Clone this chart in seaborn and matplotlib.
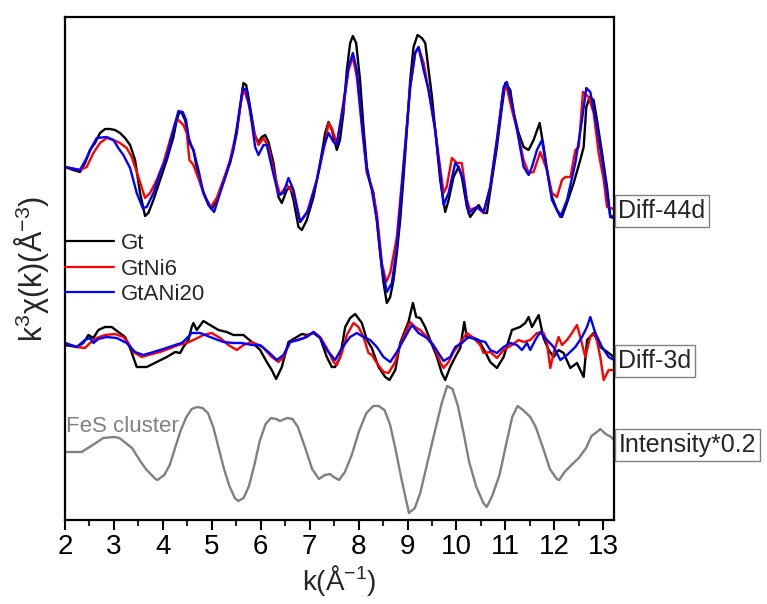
import numpy as np
import pandas as pd
import matplotlib
matplotlib.use("Agg")
import matplotlib.pyplot as plt
import matplotlib.transforms as mtransforms
from matplotlib.ticker import MultipleLocator
import seaborn as sns

# ---------------- data (k in 1/Angstrom; k^3 chi(k) in arbitrary units, relative to each trace baseline) ----
series_names = ["Gt", "GtNi6", "GtANi20"]
panel_labels = ["Diff-44d", "Diff-3d", "Intensity*0.2"]
reference_label = "FeS cluster"
x_ticks = [2, 3, 4, 5, 6, 7, 8, 9, 10, 11, 12, 13]

# ---- Diff-44d ----
k_gt_44 = [2.0, 2.17, 2.307, 2.41, 2.51, 2.614, 2.716, 2.818, 2.92, 3.023, 3.125, 3.227, 3.33, 3.432, 3.534,
           3.636, 3.704, 3.807, 3.943, 4.08, 4.216, 4.284, 4.338, 4.386, 4.454, 4.522, 4.577, 4.625, 4.727,
           4.829, 4.931, 4.999, 5.102, 5.238, 5.374, 5.511, 5.579, 5.647, 5.702, 5.749, 5.818, 5.886, 5.954,
           6.022, 6.09, 6.158, 6.261, 6.363, 6.431, 6.533, 6.601, 6.67, 6.772, 6.84, 6.942, 7.079, 7.215,
           7.317, 7.386, 7.454, 7.555, 7.62, 7.69, 7.76, 7.828, 7.883, 7.95, 8.03, 8.1, 8.169, 8.237, 8.305,
           8.373, 8.44, 8.51, 8.578, 8.646, 8.714, 8.782, 8.85, 8.919, 8.987, 9.055, 9.123, 9.205, 9.293,
           9.362, 9.43, 9.5, 9.566, 9.668, 9.77, 9.84, 9.94, 10.043, 10.11, 10.214, 10.28, 10.384, 10.452,
           10.555, 10.623, 10.725, 10.827, 10.93, 10.998, 11.1, 11.168, 11.27, 11.373, 11.475, 11.577, 11.7,
           11.782, 11.85, 11.952, 12.054, 12.157, 12.259, 12.395, 12.531, 12.6, 12.654, 12.722, 12.804,
           12.872, 12.975, 13.077, 13.145, 13.22]
gt_44 = [-1, -4, -6, 3, 16, 23, 33, 37, 37, 36, 33, 28, 21, 6, -27,
         -50, -47, -34, -14, 6, 29, 46, 54, 53, 46, 29, 21, 16, -11,
         -27, -39, -43, -34, -14, 3, 33, 59, 83, 81, 69, 49, 29, 24,
         29, 31, 24, 3, -31, -37, -24, -21, -34, -61, -64, -54, -31, 3,
         33, 44, 36, 16, 26, 53, 96, 123, 130, 123, 86, 39, -1, -17, -27,
         -54, -87, -117, -137, -131, -114, -87, -54, -11, 36, 86, 119, 131, 128,
         123, 96, 69, 36, -14, -46, -34, -11, -1, -11, -41, -51, -44, -39,
         -47, -47, -14, 19, 59, 83, 76, 53, 33, 19, 16, 26, 43,
         19, -4, -31, -44, -51, -37, -17, 6, 19, 59, 69, 66,
         46, 13, -21, -51, -50]

k_ni6_44 = [2.0, 2.307, 2.443, 2.58, 2.716, 2.852, 2.989, 3.125, 3.261, 3.364, 3.5, 3.636, 3.738, 3.875, 4.011,
            4.147, 4.25, 4.318, 4.42, 4.488, 4.543, 4.625, 4.761, 4.897, 4.979, 5.1, 5.238, 5.374, 5.511,
            5.613, 5.66, 5.749, 5.852, 5.954, 6.056, 6.158, 6.295, 6.397, 6.533, 6.67, 6.806, 6.942, 7.147,
            7.317, 7.386, 7.45, 7.555, 7.69, 7.794, 7.883, 7.964, 8.067, 8.169, 8.27, 8.373, 8.476, 8.564,
            8.646, 8.782, 8.919, 9.055, 9.157, 9.225, 9.33, 9.43, 9.566, 9.737, 9.8, 9.907, 10.01, 10.11,
            10.214, 10.28, 10.418, 10.555, 10.69, 10.827, 10.96, 11.03, 11.134, 11.24, 11.373, 11.475, 11.577,
            11.714, 11.85, 11.952, 12.054, 12.157, 12.225, 12.33, 12.43, 12.5, 12.586, 12.7, 12.804, 12.906,
            13.01, 13.077, 13.145, 13.22]
ni6_44 = [-1, -4, -1, 13, 23, 28, 26, 23, 18, 9, -11, -32, -27, -14, 3,
          26, 43, 46, 41, 33, 6, 1, -17, -34, -41, -32, -14, 6, 36,
          69, 76, 63, 36, 21, 28, 19, -11, -29, -19, -27, -56, -47, -14,
          23, 43, 38, 23, 59, 96, 109, 89, 39, -7, -21, -47, -97, -116,
          -107, -71, 3, 79, 113, 119, 103, 76, 36, -27, -21, 8, 3, 3,
          -34, -44, -41, -47, -21, 26, 76, 78, 56, 36, 6, -7, -6,
          14, -4, -27, -31, -14, -11, -11, 16, 19, 74, 69, 53, 13,
          -14, -41, -42, -43]

k_ani20_44 = [2.0, 2.307, 2.443, 2.546, 2.648, 2.852, 2.989, 3.09, 3.193, 3.33, 3.466, 3.588, 3.67, 3.807, 3.943,
              4.08, 4.216, 4.318, 4.406, 4.474, 4.543, 4.625, 4.727, 4.829, 4.965, 5.047, 5.17, 5.306, 5.442,
              5.545, 5.633, 5.702, 5.783, 5.886, 5.954, 6.056, 6.124, 6.226, 6.363, 6.465, 6.567, 6.67, 6.806,
              6.976, 7.147, 7.283, 7.386, 7.488, 7.555, 7.69, 7.794, 7.883, 7.964, 8.067, 8.169, 8.27, 8.373,
              8.476, 8.578, 8.68, 8.782, 8.919, 9.055, 9.157, 9.225, 9.33, 9.43, 9.566, 9.737, 9.84, 9.975,
              10.043, 10.146, 10.248, 10.418, 10.555, 10.69, 10.827, 10.964, 11.03, 11.134, 11.24, 11.373,
              11.475, 11.543, 11.645, 11.748, 11.85, 11.952, 12.123, 12.26, 12.43, 12.566, 12.654, 12.736,
              12.872, 13.01, 13.145, 13.22]
ani20_44 = [-1, -4, 8, 19, 28, 29, 26, 18, 11, -2, -27, -42, -41, -27, -7,
            9, 36, 55, 54, 46, 23, 16, -4, -27, -41, -46, -27, -7, 16,
            49, 78, 76, 56, 19, 11, 21, 21, -1, -29, -27, -12, -24, -56,
            -44, -14, 19, 33, 24, 21, 63, 99, 113, 96, 43, -4, -24, -54,
            -101, -126, -117, -81, -1, 79, 113, 119, 96, 76, 36, -39, -27, 3,
            -1, -14, -47, -41, -46, -21, 26, 79, 84, 63, 36, -1,
            -9, -1, 16, 26, -4, -34, -51, -34, 3, 46, 78, 74,
            39, -4, -51, -52]

# ---- Diff-3d ----
k_gt_3 = [2.0, 2.239, 2.375, 2.477, 2.58, 2.682, 2.818, 2.955, 3.09, 3.227, 3.33, 3.466, 3.67, 3.875, 4.08,
          4.25, 4.352, 4.42, 4.522, 4.59, 4.625, 4.693, 4.829, 4.965, 5.136, 5.306, 5.443, 5.647, 5.818,
          5.988, 6.124, 6.226, 6.315, 6.431, 6.567, 6.704, 6.84, 6.942, 7.079, 7.215, 7.35, 7.454, 7.52,
          7.623, 7.726, 7.828, 7.93, 8.067, 8.17, 8.27, 8.408, 8.544, 8.632, 8.75, 8.85, 8.953, 9.02, 9.11,
          9.178, 9.26, 9.36, 9.464, 9.6, 9.7, 9.77, 9.873, 9.975, 10.077, 10.16, 10.214, 10.316, 10.452,
          10.589, 10.69, 10.827, 10.964, 11.134, 11.3, 11.407, 11.475, 11.543, 11.68, 11.78, 11.884, 11.986,
          12.088, 12.19, 12.327, 12.463, 12.6, 12.67, 12.804, 12.94, 13.11, 13.22]
gt_3 = [0, -2, 2, 10, 7, 15, 18, 18, 13, 8, -3, -22, -22, -17, -12,
        -7, -8, -2, 5, 18, 22, 15, 24, 20, 15, 13, 10, 10, 3,
        -5, -17, -25, -34, -22, 3, 7, 11, 10, 12, 7, -12, -22, -22,
        -12, 18, 27, 31, 22, 5, -3, -22, -32, -35, -25, 2, 15, 23, 42,
        28, 27, 18, 5, -12, -28, -35, -22, -12, -3, 23, 7, 8, 5,
        -7, -17, -23, -12, 15, 18, 22, 28, 18, 30, 7, -5, -12,
        -5, -8, -23, -18, -32, 5, 12, -2, -8, -12]

k_ni6_3 = [2.0, 2.239, 2.409, 2.511, 2.648, 2.818, 3.023, 3.193, 3.295, 3.398, 3.568, 3.704, 3.943, 4.216,
           4.318, 4.488, 4.625, 4.829, 4.999, 5.17, 5.34, 5.511, 5.647, 5.818, 5.954, 6.056, 6.226, 6.363,
           6.465, 6.601, 6.738, 6.874, 7.079, 7.215, 7.35, 7.488, 7.555, 7.658, 7.76, 7.896, 7.998, 8.1,
           8.203, 8.271, 8.373, 8.51, 8.612, 8.748, 8.85, 8.953, 9.055, 9.157, 9.26, 9.396, 9.532, 9.669,
           9.737, 9.839, 9.941, 10.077, 10.214, 10.35, 10.486, 10.555, 10.691, 10.827, 10.964, 11.134, 11.27,
           11.373, 11.509, 11.645, 11.782, 11.85, 11.918, 11.986, 12.088, 12.157, 12.259, 12.361, 12.463,
           12.531, 12.634, 12.736, 12.838, 12.94, 13.009, 13.111, 13.22]
ni6_3 = [2, -2, -3, 2, 7, 10, 11, 8, 2, -7, -12, -10, -7, -2,
         0, 2, 5, 10, 12, 7, 0, -5, 0, 3, 0, -3, -12, -17,
         -12, 3, 5, 7, 13, 8, -3, -17, -20, -8, 10, 22, 18, 8,
         -8, -10, -18, -27, -28, -17, 0, 12, 23, 18, 15, 8, 0, -17,
         -23, -17, -7, 2, 12, 7, 0, -8, -7, -13, -5, 0, 5,
         3, 5, 12, 12, 2, -23, -8, 8, 0, 5, 12, 20,
         8, -12, 8, 12, -12, -35, -25, -25]

k_ani20_3 = [2.0, 2.239, 2.409, 2.511, 2.58, 2.682, 2.852, 3.057, 3.261, 3.432, 3.602, 3.807, 4.011, 4.25,
             4.386, 4.454, 4.59, 4.761, 4.965, 5.238, 5.443, 5.613, 5.818, 5.988, 6.158, 6.329, 6.465, 6.601,
             6.772, 6.942, 7.079, 7.215, 7.35, 7.488, 7.521, 7.658, 7.828, 7.964, 8.1, 8.237, 8.373, 8.51,
             8.646, 8.782, 8.919, 9.089, 9.225, 9.396, 9.566, 9.737, 9.873, 9.975, 10.11, 10.248, 10.418,
             10.589, 10.691, 10.827, 10.964, 11.1, 11.236, 11.339, 11.441, 11.509, 11.611, 11.713, 11.85,
             11.986, 12.123, 12.259, 12.43, 12.566, 12.668, 12.736, 12.838, 12.975, 13.111, 13.22]
ani20_3 = [2, -2, 5, 7, 2, 6, 8, 7, 2, -7, -10, -7, -4, 0,
           2, 5, 12, 12, 8, 3, 2, 2, 0, 0, -7, -15, -10, 3,
           5, 8, 13, 7, -5, -13, -15, -3, 8, 12, 8, 5, -2, -12,
           -17, -7, 5, 20, 12, 7, -3, -16, -12, -2, 2, 8, 5,
           3, -5, -8, -2, 2, 0, -5, 2, -5, 5, 13, 5,
           -2, -15, -10, -2, 8, 18, 28, 12, -2, -12, -15]

# ---- FeS cluster (intensity * 0.2) ----
k_fes = [2.0, 2.34, 2.63, 2.78, 3.0, 3.11, 3.37, 3.55, 3.67, 3.85, 3.89, 4.03, 4.14, 4.25, 4.36, 4.48, 4.59,
         4.7, 4.81, 4.92, 5.03, 5.14, 5.25, 5.36, 5.47, 5.54, 5.65, 5.76, 5.87, 5.98, 6.1, 6.21, 6.32, 6.39,
         6.54, 6.65, 6.76, 6.91, 7.05, 7.19, 7.31, 7.42, 7.49, 7.6, 7.72, 7.86, 8.01, 8.16, 8.3, 8.41, 8.53,
         8.64, 8.75, 8.86, 8.97, 9.03, 9.15, 9.26, 9.41, 9.56, 9.7, 9.81, 9.92, 10.03, 10.15, 10.26, 10.4,
         10.55, 10.62, 10.73, 10.88, 11.03, 11.14, 11.25, 11.36, 11.51, 11.62, 11.77, 11.91, 12.05, 12.1,
         12.21, 12.35, 12.5, 12.65, 12.76, 12.87, 12.94, 13.05, 13.16, 13.22]
fes = [0, 0, 9, 14, 15, 14, 4, -10, -18, -27, -28, -23, -13, 4, 21, 35, 43,
       45, 44, 39, 25, 4, -17, -34, -46, -49, -46, -34, -13, 11, 28, 34, 33, 31,
       34, 33, 25, 4, -17, -27, -23, -22, -25, -28, -20, -3, 21, 39, 46, 46, 42,
       28, 4, -23, -48, -61, -56, -41, -10, 21, 49, 66, 63, 46, 18, -10, -34,
       -51, -55, -44, -23, 11, 35, 46, 42, 35, 25, 4, -17, -27, -28,
       -20, -13, -6, 4, 16, 20, 23, 18, 15, 12]

# ---------------- style ----------------
sns.set_theme(style="white")
plt.rcParams["font.family"] = ["Liberation Sans", "DejaVu Sans"]
plt.rcParams["mathtext.fontset"] = "custom"
plt.rcParams["mathtext.rm"] = "Liberation Sans"
plt.rcParams["mathtext.it"] = "Liberation Sans:italic"
plt.rcParams["mathtext.bf"] = "Liberation Sans:bold"

fig = plt.figure(figsize=(7.67, 6.04), dpi=100)
ax = fig.add_axes([65 / 767, 1 - 520 / 604, (614 - 65) / 767, (520 - 17) / 604])

colors = ["#000000", "#ff0000", "#0000ff"]
offset_44, offset_3, offset_fes = 354, 175, 68

frames = []
for name, k, v in zip(series_names, [k_gt_44, k_ni6_44, k_ani20_44], [gt_44, ni6_44, ani20_44]):
    frames.append(pd.DataFrame({"k": k, "y": np.array(v, float) + offset_44, "sample": name}))
df44 = pd.concat(frames, ignore_index=True)
frames = []
for name, k, v in zip(series_names, [k_gt_3, k_ni6_3, k_ani20_3], [gt_3, ni6_3, ani20_3]):
    frames.append(pd.DataFrame({"k": k, "y": np.array(v, float) + offset_3, "sample": name}))
df3 = pd.concat(frames, ignore_index=True)
dffes = pd.DataFrame({"k": k_fes, "y": np.array(fes, float) + offset_fes})

pal = dict(zip(series_names, colors))
lw = 1.7
sns.lineplot(data=df3, x="k", y="y", hue="sample", palette=pal, hue_order=series_names,
             linewidth=lw, ax=ax, legend=False, estimator=None)
sns.lineplot(data=df44, x="k", y="y", hue="sample", palette=pal, hue_order=series_names,
             linewidth=lw, ax=ax, legend=True, estimator=None)
sns.lineplot(data=dffes, x="k", y="y", color="#808080", linewidth=lw, ax=ax, estimator=None)
for line in ax.get_lines():
    line.set_solid_joinstyle("round")

ax.set_xlim(2, 13.22)
ax.set_ylim(0, 503)
ax.set_xticks(x_ticks)
ax.set_xticklabels([str(t) for t in x_ticks])
ax.xaxis.set_minor_locator(MultipleLocator(0.5))
ax.set_yticks([])
ax.tick_params(axis="x", which="major", direction="out", length=7, width=1.5, labelsize=20,
               bottom=True, top=False, pad=3, colors="black")
ax.tick_params(axis="x", which="minor", direction="out", length=4, width=1.5, bottom=True, top=False)
for s in ax.spines.values():
    s.set_linewidth(1.6)
    s.set_color("black")
    s.set_visible(True)

ax.set_xlabel(r"k(Å$\mathregular{^{-1}}$)", fontsize=20, labelpad=2)
ax.set_ylabel(r"k$\mathregular{^{3}}$χ(k)(Å$\mathregular{^{-3}}$)", fontsize=22, labelpad=10)

leg = ax.legend(loc="center left", bbox_to_anchor=(0, 0.499), frameon=False, fontsize=16,
                handlelength=2.2, handletextpad=0.3, labelspacing=0.2, borderpad=0, borderaxespad=0)
for line in leg.get_lines():
    line.set_linewidth(1.6)

trans = mtransforms.blended_transform_factory(ax.transAxes, ax.transData)
box = dict(boxstyle="square,pad=0.15", facecolor="white", edgecolor="#808080", linewidth=1)
for lab, yv in zip(panel_labels, [309, 159, 75]):
    ax.text(1.008, yv, lab, transform=trans, ha="left", va="center", fontsize=18, bbox=box, clip_on=False)

ax.text(2.03, 93, reference_label, color="#808080", fontsize=16, ha="left", va="center")

fig.savefig("out.png", dpi=100)
